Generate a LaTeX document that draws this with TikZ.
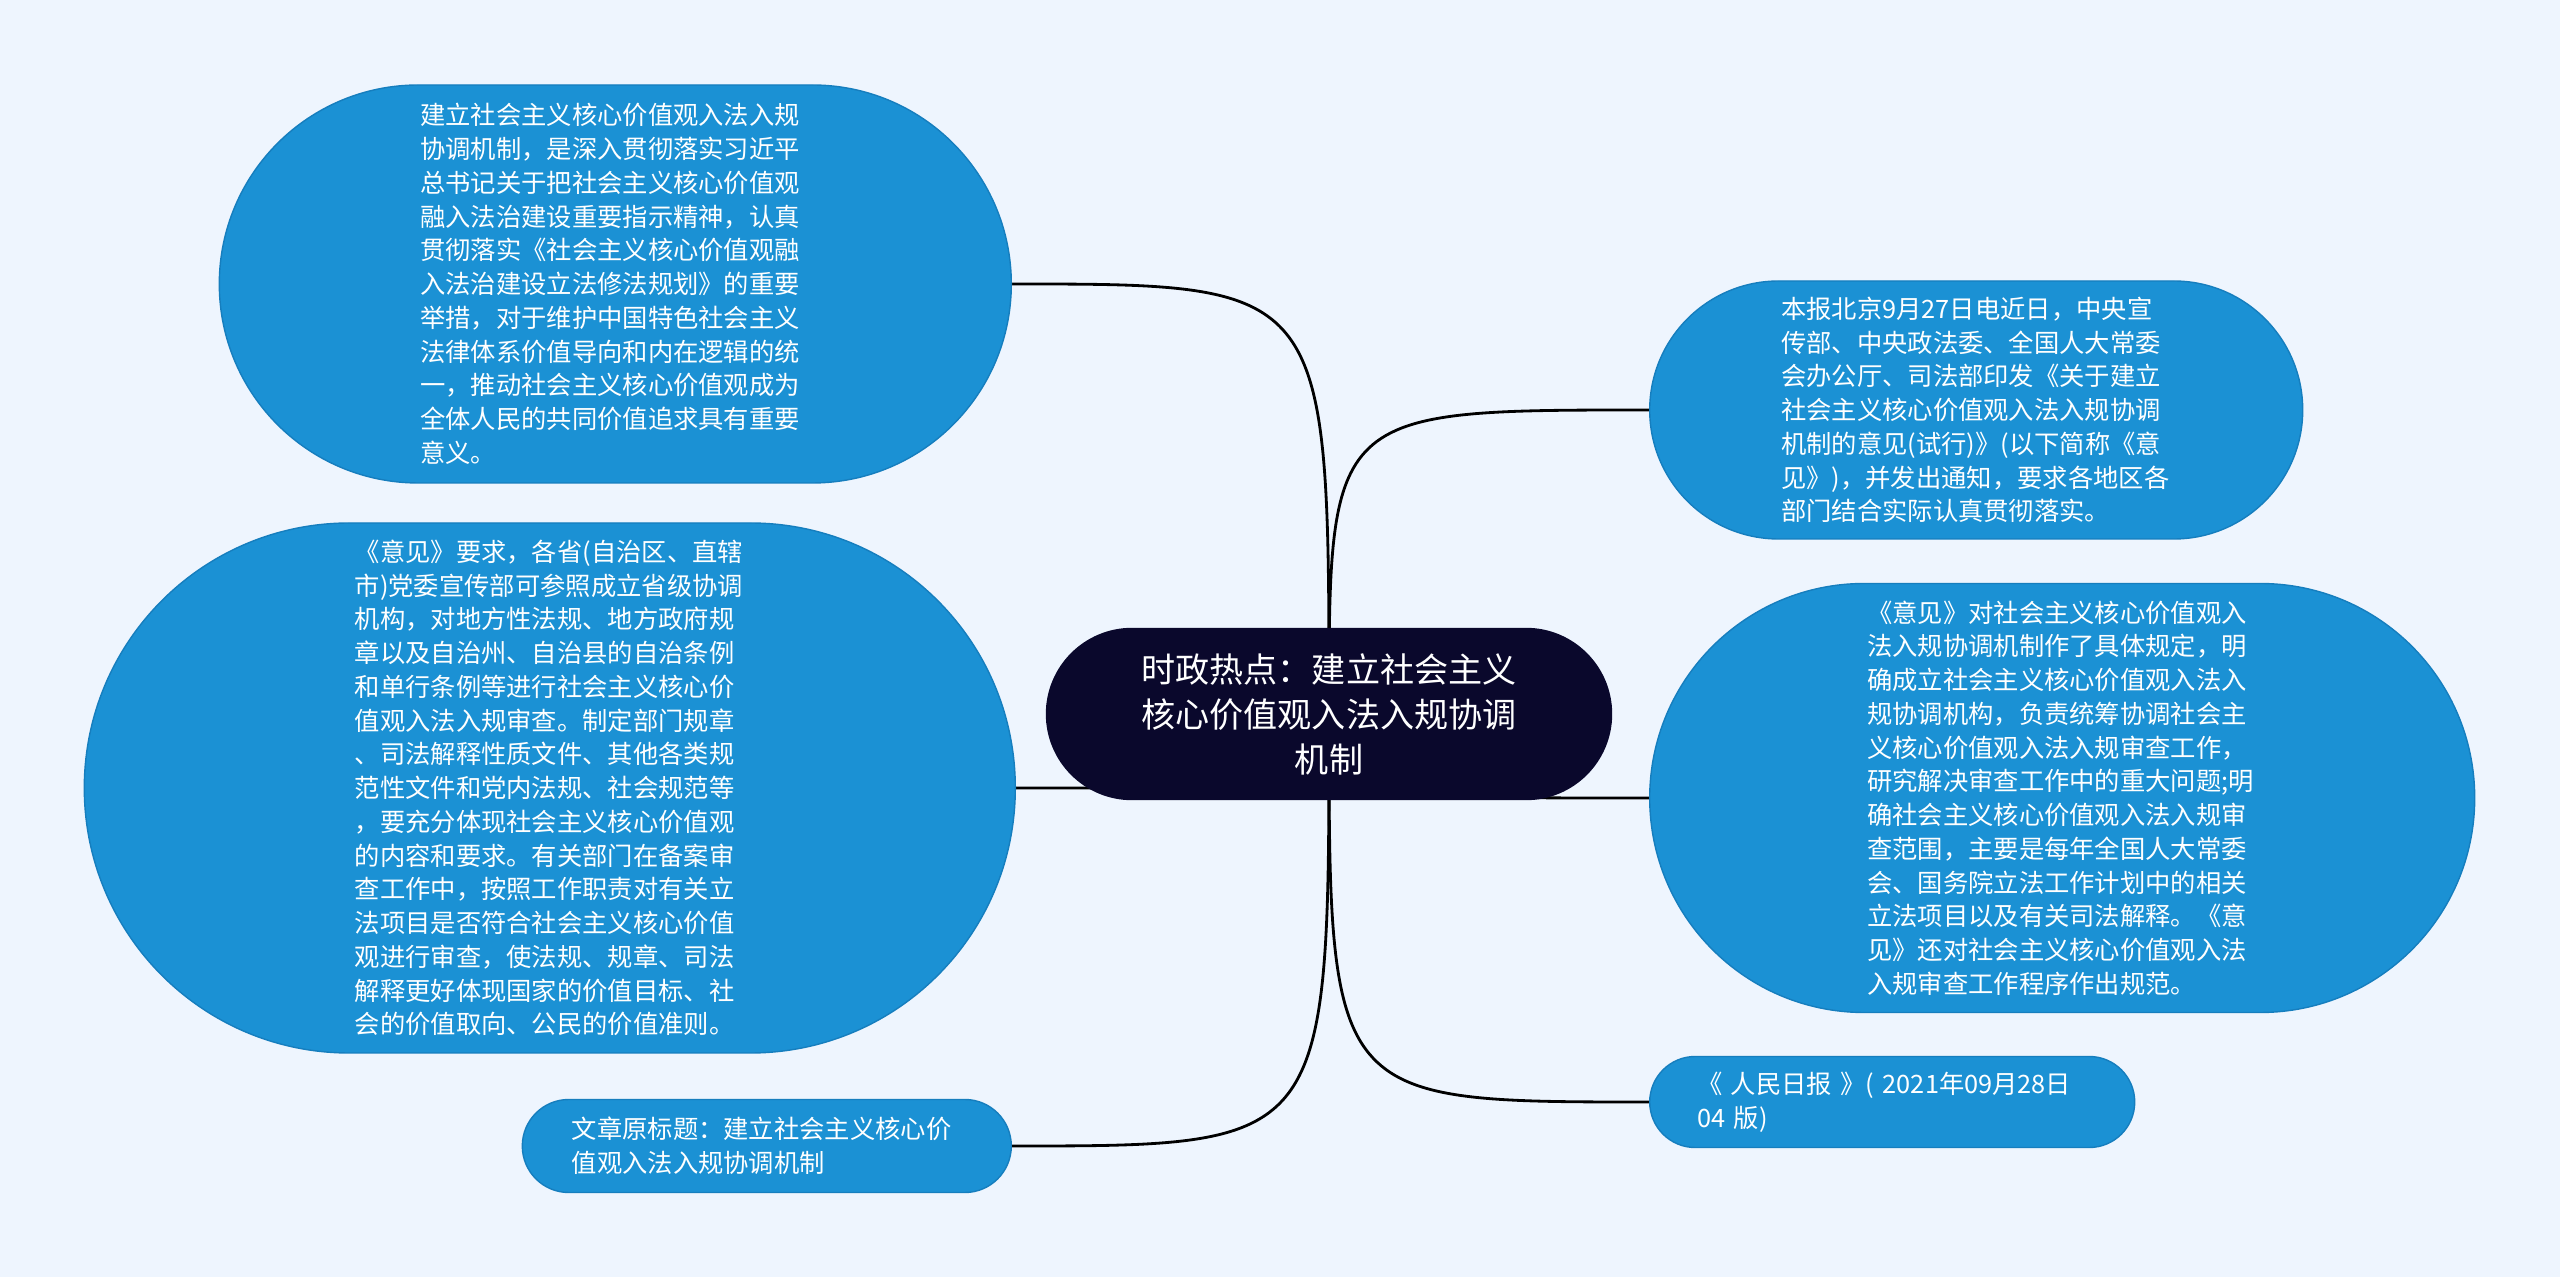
\documentclass[tikz,border=0pt]{standalone}
\usepackage{fontspec}
\usepackage{tikz}
\usetikzlibrary{shapes.misc, backgrounds}
\newfontfamily\cjkfont{Noto Sans CJK SC}
\definecolor{pagebg}{RGB}{238,245,254}
\definecolor{topicblue}{RGB}{27,145,212}
\definecolor{topicedge}{RGB}{22,126,190}
\definecolor{rootnavy}{RGB}{10,8,44}

\begin{document}
\begin{tikzpicture}
		% Styles for the map
		\tikzset{topic/.style={rounded rectangle, fill=topicblue, draw=topicedge, line width=0.4pt, text=white, text width=3.9cm, align=left, inner xsep=0pt, inner ysep=2pt, font=\cjkfont\fontsize{7.2}{9.6}\selectfont}}
		\tikzset{maintopic/.style={rounded rectangle, fill=rootnavy, draw=rootnavy, text=white, text width=3.9cm, align=center, inner xsep=0pt, font=\cjkfont\fontsize{9.7}{12.8}\selectfont}}
		\tikzset{link/.style={draw=black, line width=0.8pt}}
		
		% Central topic
		\node[maintopic, minimum width=5.65cm, minimum height=1.71cm] (root) at (13.29,-7.14) {时政热点：建立社会主义\\核心价值观入法入规协调\\机制};
		
		% Left branch
		\node[topic, anchor=east, minimum width=7.92cm, minimum height=3.98cm] (sense) at (10.12,-2.84) {建立社会主义核心价值观入法入规\\协调机制，是深入贯彻落实习近平\\总书记关于把社会主义核心价值观\\融入法治建设重要指示精神，认真\\贯彻落实《社会主义核心价值观融\\入法治建设立法修法规划》的重要\\举措，对于维护中国特色社会主义\\法律体系价值导向和内在逻辑的统\\一，推动社会主义核心价值观成为\\全体人民的共同价值追求具有重要\\意义。};
		\node[topic, anchor=east, minimum width=9.31cm, minimum height=5.30cm] (prov) at (10.16,-7.88) {《意见》要求，各省(自治区、直辖\\市)党委宣传部可参照成立省级协调\\机构，对地方性法规、地方政府规\\章以及自治州、自治县的自治条例\\和单行条例等进行社会主义核心价\\值观入法入规审查。制定部门规章\\、司法解释性质文件、其他各类规\\范性文件和党内法规、社会规范等\\，要充分体现社会主义核心价值观\\的内容和要求。有关部门在备案审\\查工作中，按照工作职责对有关立\\法项目是否符合社会主义核心价值\\观进行审查，使法规、规章、司法\\解释更好体现国家的价值目标、社\\会的价值取向、公民的价值准则。};
		\node[topic, anchor=east, minimum width=4.89cm, minimum height=0.93cm] (title) at (10.12,-11.46) {文章原标题：建立社会主义核心价\\值观入法入规协调机制};
		
		% Right branch
		\node[topic, anchor=west, minimum width=6.53cm, minimum height=2.58cm] (news) at (16.49,-4.10) {本报北京9月27日电近日，中央宣\\传部、中央政法委、全国人大常委\\会办公厅、司法部印发《关于建立\\社会主义核心价值观入法入规协调\\机制的意见(试行)》(以下简称《意\\见》)，并发出通知，要求各地区各\\部门结合实际认真贯彻落实。};
		\node[topic, anchor=west, minimum width=8.25cm, minimum height=4.29cm] (rules) at (16.49,-7.98) {《意见》对社会主义核心价值观入\\法入规协调机制作了具体规定，明\\确成立社会主义核心价值观入法入\\规协调机构，负责统筹协调社会主\\义核心价值观入法入规审查工作，\\研究解决审查工作中的重大问题;明\\确社会主义核心价值观入法入规审\\查范围，主要是每年全国人大常委\\会、国务院立法工作计划中的相关\\立法项目以及有关司法解释。《意\\见》还对社会主义核心价值观入法\\入规审查工作程序作出规范。};
		\node[topic, anchor=west, minimum width=4.85cm, minimum height=0.91cm] (source) at (16.49,-11.02) {《 人民日报 》( 2021年09月28日\\04 版)};
		
		% Background and connectors
		\begin{scope}[on background layer]
			\fill[pagebg] (0,0) rectangle (25.6,-12.77);
			\foreach \kid in {sense, prov, title}
				\draw[link] (root.center) .. controls (root.center |- \kid.east) .. (\kid.east);
			\foreach \kid in {news, rules, source}
				\draw[link] (root.center) .. controls (root.center |- \kid.west) .. (\kid.west);
		\end{scope}
	\end{tikzpicture}
\end{document}
